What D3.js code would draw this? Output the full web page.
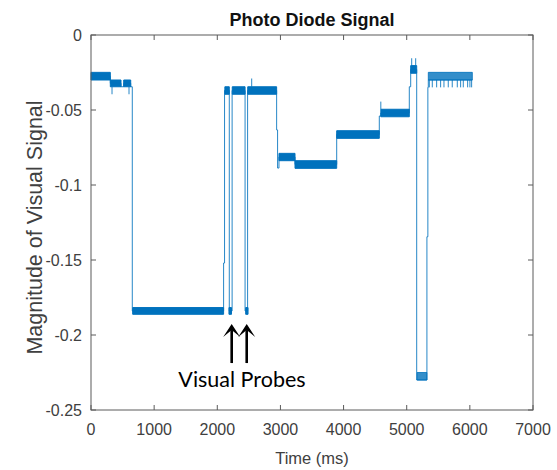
<!DOCTYPE html>
<html>
<head>
<meta charset="utf-8">
<script src="https://cdn.jsdelivr.net/npm/d3@7"></script>
<style>
  html, body { margin: 0; padding: 0; background: #fff; }
  svg { display: block; }
</style>
</head>
<body>
<svg id="chart" width="557" height="470"></svg>
<script>
// ---------------- DATA ----------------
const xTicks = [0, 1000, 2000, 3000, 4000, 5000, 6000, 7000];
const yTicks = [0, -0.05, -0.1, -0.15, -0.2, -0.25];

// main trace of the signal (time in ms, value)
const traceT = [0, 306, 306, 475, 475, 518, 518, 629, 629, 654, 654, 2100, 2100, 2115, 2115,
  2190, 2190, 2235, 2235, 2440, 2440, 2480, 2480, 2940, 2940, 2955, 2955, 2977, 2977,
  3231, 3231, 3891, 3891, 4566, 4566, 4590, 4590, 5041, 5041, 5063, 5063, 5158, 5158,
  5320, 5320, 5335, 5335, 5342, 5342, 6039];
const traceV = [-0.0275, -0.0275, -0.0322, -0.0322, -0.0345, -0.0345, -0.0322, -0.0322, -0.0345, -0.0345, -0.184, -0.184, -0.152, -0.152, -0.037,
  -0.037, -0.184, -0.184, -0.037, -0.037, -0.184, -0.184, -0.037, -0.037, -0.0633, -0.0633, -0.0887, -0.0887, -0.0813,
  -0.0813, -0.0863, -0.0863, -0.0663, -0.0663, -0.054, -0.054, -0.052, -0.052, -0.0345, -0.0345, -0.023, -0.023, -0.230,
  -0.230, -0.1345, -0.1345, -0.0349, -0.0349, -0.030, -0.030];

// noisy stretches where the signal flickers between two adjacent levels
const bandT0 = [0, 306, 518, 660, 2120, 2185, 2237, 2450, 2482, 2977, 3231, 3891, 4590, 5063, 5165, 5342];
const bandT1 = [306, 475, 629, 2100, 2190, 2225, 2440, 2487, 2940, 3231, 3891, 4566, 5041, 5158, 5320, 6039];
const bandHi = [-0.0249, -0.030, -0.030, -0.1817, -0.0345, -0.1817, -0.0345, -0.1817, -0.0345, -0.0789, -0.0838, -0.0638, -0.0495, -0.0204, -0.225, -0.0249];
const bandLo = [-0.030, -0.0345, -0.0345, -0.1862, -0.0395, -0.1862, -0.0395, -0.1862, -0.0395, -0.0838, -0.0889, -0.0689, -0.0545, -0.0255, -0.230, -0.030];
// how densely each stretch is filled (1 = solid)
const bandDensity = [1, 1, 1, 1, 1, 1, 1, 1, 1, 1, 1, 1, 1, 1, 0.8, 0.8];

// short spikes
const spikeT = [333, 602, 2545, 4590, 5079, 5142, 5358, 5405, 5474, 5537, 5590, 5658, 5721, 5801, 5854, 5896, 5965, 6001, 6028];
const spikeBase = [-0.0345, -0.0345, -0.0345, -0.0495, -0.0204, -0.0204, -0.030, -0.030, -0.030, -0.030, -0.030, -0.030, -0.030, -0.030, -0.030, -0.030, -0.030, -0.030, -0.030];
const spikeTip = [-0.0395, -0.0395, -0.029, -0.0444, -0.0155, -0.0155, -0.0349, -0.0349, -0.0349, -0.0349, -0.0349, -0.0349, -0.0349, -0.0349, -0.0349, -0.0349, -0.0349, -0.0349, -0.0349];

// annotation
const probeT = [2228, 2466];
const arrowTipV = -0.1927;
const arrowTailV = -0.2187;
const probeLabel = "Visual Probes";
const probeLabelT = 2391;
const probeLabelV = -0.2345;

const titleText = "Photo Diode Signal";
const xLabel = "Time (ms)";
const yLabel = "Magnitude of Visual Signal";

// ---------------- DRAWING ----------------
(function () {
const svg = d3.select("#chart");
const pL = 91, pR = 533, pT = 35, pB = 410;
const x = d3.scaleLinear().domain([0, 7000]).range([pL, pR]);
const y = d3.scaleLinear().domain([-0.25, 0]).range([pB, pT]);

const lineColor = "#0072BD";
const axisColor = "#5a5a5a";
const textColor = "#404040";
const font = "'Liberation Sans', Arial, Helvetica, sans-serif";

const plot = svg.append("g");

// bands
const bands = d3.range(bandT0.length).map(i => ({t0: bandT0[i], t1: bandT1[i], hi: bandHi[i], lo: bandLo[i], k: bandDensity[i]}));
const area = d3.area().x(d => x(d.t)).y0(d => y(d.lo)).y1(d => y(d.hi));
plot.selectAll("path.band").data(bands).join("path")
  .attr("class", "band")
  .attr("d", b => area([{t: b.t0, lo: b.lo, hi: b.hi}, {t: b.t1, lo: b.lo, hi: b.hi}]))
  .attr("fill", lineColor)
  .attr("fill-opacity", b => b.k)
  .attr("stroke", lineColor)
  .attr("stroke-opacity", b => b.k)
  .attr("stroke-width", 1);

// trace
const trace = traceT.map((t, i) => [t, traceV[i]]);
plot.append("path")
  .attr("d", d3.line().x(d => x(d[0])).y(d => y(d[1]))(trace))
  .attr("fill", "none")
  .attr("stroke", lineColor)
  .attr("stroke-opacity", 0.85)
  .attr("stroke-width", 1);

// spikes
plot.selectAll("line.spike").data(spikeT).join("line")
  .attr("class", "spike")
  .attr("x1", t => x(t)).attr("x2", t => x(t))
  .attr("y1", (t, i) => y(spikeBase[i])).attr("y2", (t, i) => y(spikeTip[i]))
  .attr("stroke", lineColor)
  .attr("stroke-opacity", 0.85)
  .attr("stroke-width", 1);

// axes (box with inward ticks on all sides)
const tickLen = 5;
const ax = svg.append("g");
ax.append("rect")
  .attr("x", pL).attr("y", pT)
  .attr("width", pR - pL).attr("height", pB - pT)
  .attr("fill", "none").attr("stroke", axisColor).attr("stroke-width", 1);

ax.selectAll("line.xtb").data(xTicks).join("line")
  .attr("class", "xtb")
  .attr("x1", d => x(d)).attr("x2", d => x(d))
  .attr("y1", pB).attr("y2", pB - tickLen)
  .attr("stroke", axisColor);
ax.selectAll("line.xtt").data(xTicks).join("line")
  .attr("class", "xtt")
  .attr("x1", d => x(d)).attr("x2", d => x(d))
  .attr("y1", pT).attr("y2", pT + tickLen)
  .attr("stroke", axisColor);
ax.selectAll("line.ytl").data(yTicks).join("line")
  .attr("class", "ytl")
  .attr("x1", pL).attr("x2", pL + tickLen)
  .attr("y1", d => y(d)).attr("y2", d => y(d))
  .attr("stroke", axisColor);
ax.selectAll("line.ytr").data(yTicks).join("line")
  .attr("class", "ytr")
  .attr("x1", pR).attr("x2", pR - tickLen)
  .attr("y1", d => y(d)).attr("y2", d => y(d))
  .attr("stroke", axisColor);

ax.selectAll("text.xt").data(xTicks).join("text")
  .attr("class", "xt")
  .attr("x", d => x(d)).attr("y", pB + 25)
  .attr("text-anchor", "middle")
  .attr("font-family", font).attr("font-size", 16)
  .attr("fill", textColor)
  .text(d => d3.format("d")(d));

ax.selectAll("text.yt").data(yTicks).join("text")
  .attr("class", "yt")
  .attr("x", pL - 9).attr("y", d => y(d) + 6)
  .attr("text-anchor", "end")
  .attr("font-family", font).attr("font-size", 16)
  .attr("fill", textColor)
  .text(d => d === 0 ? "0" : String(d));

// labels
svg.append("text")
  .attr("x", (pL + pR) / 2).attr("y", 464)
  .attr("text-anchor", "middle")
  .attr("font-family", font).attr("font-size", 16.5)
  .attr("fill", textColor)
  .text(xLabel);

svg.append("text")
  .attr("transform", `translate(41.5, ${(98 + 357) / 2}) rotate(-90)`)
  .attr("text-anchor", "middle")
  .attr("font-family", font).attr("font-size", 21.5)
  .attr("fill", textColor)
  .text(yLabel);

svg.append("text")
  .attr("x", (pL + pR) / 2).attr("y", 25.5)
  .attr("text-anchor", "middle")
  .attr("font-family", font).attr("font-size", 18).attr("font-weight", "bold")
  .attr("fill", "#111")
  .text(titleText);

// annotation arrows
const headW = 8.5, headL = 13, notch = 6;
probeT.forEach(t => {
  const px = x(t), ty = y(arrowTipV), by = y(arrowTailV);
  svg.append("line")
    .attr("x1", px).attr("x2", px)
    .attr("y1", ty + notch).attr("y2", by)
    .attr("stroke", "#000").attr("stroke-width", 2.6);
  svg.append("path")
    .attr("d", `M${px},${ty} L${px - headW},${ty + headL} L${px},${ty + notch} L${px + headW},${ty + headL} Z`)
    .attr("fill", "#000");
});
svg.append("text")
  .attr("x", x(probeLabelT)).attr("y", y(probeLabelV))
  .attr("text-anchor", "middle")
  .attr("font-family", "Lato, 'Open Sans', sans-serif").attr("font-size", 21.5)
  .attr("fill", "#000")
  .text(probeLabel);
})();
</script>
</body>
</html>
